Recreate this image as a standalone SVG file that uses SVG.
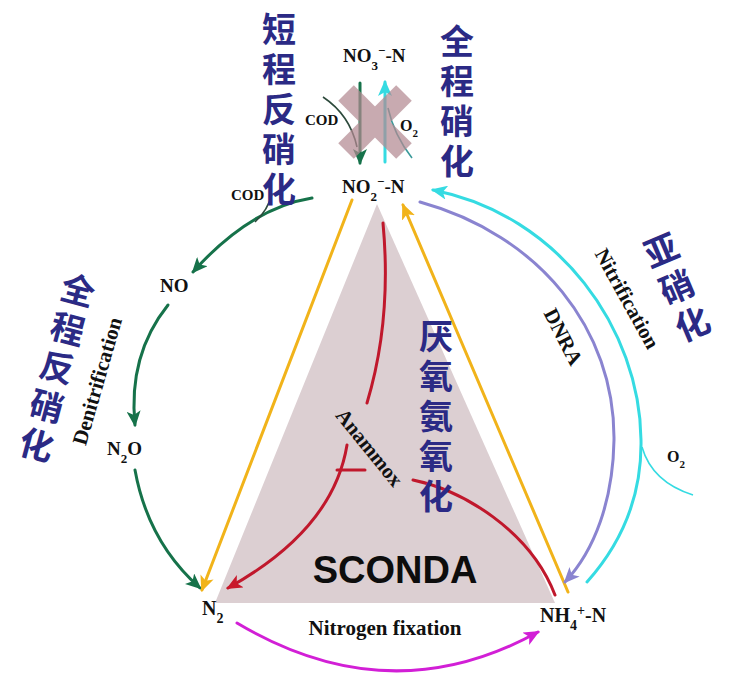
<svg xmlns="http://www.w3.org/2000/svg" width="739" height="686" viewBox="0 0 739 686">
<defs>
<style>
.chem{font-family:"Liberation Serif","Times New Roman",serif;font-weight:bold;fill:#111;}
.cn{font-family:"Noto Sans CJK SC","Noto Sans",sans-serif;font-weight:bold;fill:#2b2a85;font-size:34px;writing-mode:vertical-rl;letter-spacing:6px;}
.ln{fill:none;stroke-width:3;stroke-linecap:round;}
.thin{fill:none;stroke-width:1.6;}
</style>
<marker id="aG" viewBox="0 0 16 14" refX="14" refY="7" markerWidth="16" markerHeight="14" markerUnits="userSpaceOnUse" orient="auto"><path d="M0,0 L16,7 L0,14 L4,7 z" fill="#16724a"/></marker>
<marker id="aY" viewBox="0 0 16 14" refX="14" refY="7" markerWidth="16" markerHeight="14" markerUnits="userSpaceOnUse" orient="auto"><path d="M0,0 L16,7 L0,14 L4,7 z" fill="#f1b31a"/></marker>
<marker id="aR" viewBox="0 0 16 14" refX="14" refY="7" markerWidth="16" markerHeight="14" markerUnits="userSpaceOnUse" orient="auto"><path d="M0,0 L16,7 L0,14 L4,7 z" fill="#c9182b"/></marker>
<marker id="aP" viewBox="0 0 16 14" refX="14" refY="7" markerWidth="16" markerHeight="14" markerUnits="userSpaceOnUse" orient="auto"><path d="M0,0 L16,7 L0,14 L4,7 z" fill="#8a84d0"/></marker>
<marker id="aC" viewBox="0 0 16 14" refX="14" refY="7" markerWidth="16" markerHeight="14" markerUnits="userSpaceOnUse" orient="auto"><path d="M0,0 L16,7 L0,14 L4,7 z" fill="#35dbe2"/></marker>
<marker id="aM" viewBox="0 0 16 14" refX="14" refY="7" markerWidth="16" markerHeight="14" markerUnits="userSpaceOnUse" orient="auto"><path d="M0,0 L16,7 L0,14 L4,7 z" fill="#d21fd6"/></marker>
</defs>
<rect width="739" height="686" fill="#ffffff"/>
<g id="sconda-triangle">
<polygon points="377,204 215,603 555,603" fill="#dccfd2"/>
</g>
<g id="connectors">
<path class="ln" d="M312,198 Q250,208 193,272" stroke="#16724a" marker-end="url(#aG)"/>
<path class="thin" d="M272,194 Q268,210 255,222" stroke="#2d4a3c"/>
<path class="ln" d="M168,305 Q128,355 135,425" stroke="#16724a" marker-end="url(#aG)"/>
<path class="ln" d="M135,470 Q148,542 200,588" stroke="#16724a" marker-end="url(#aG)"/>
<path class="ln" d="M352,200 L202,590" stroke="#f1b31a" marker-end="url(#aY)"/>
<path class="ln" d="M568,592 L403,205" stroke="#f1b31a" marker-end="url(#aY)"/>
<path class="ln" d="M383,223 Q392,320 367,403" stroke="#c0182c"/>
<path class="ln" d="M347,445 C338,500 300,548 228,588" stroke="#c0182c" marker-end="url(#aR)"/>
<path class="ln" d="M337,470 L365,470" stroke="#c0182c"/>
<path class="ln" d="M413,480 C462,490 530,530 555,595" stroke="#c0182c"/>
<path class="ln" d="M420,202 C540,235 615,330 614,440 C613,500 595,550 565,582" stroke="#8a84d0" marker-end="url(#aP)"/>
<path class="ln" d="M587,582 C620,545 642,500 641,440 C640,330 560,215 433,190" stroke="#35dbe2" marker-end="url(#aC)"/>
<path class="thin" d="M642,447 Q652,482 693,495" stroke="#35dbe2" stroke-width="2"/>
<path class="ln" d="M237,623 Q390,714 538,632" stroke="#d21fd6" marker-end="url(#aM)"/>
<path class="ln" d="M360,83 L360,163" stroke="#16724a" marker-end="url(#aG)"/>
<path class="thin" d="M323,97 Q350,115 357,147" stroke="#2d4a3c"/>
<path class="ln" d="M385,162 L385,82" stroke="#35dbe2" marker-end="url(#aC)"/>
<path class="thin" d="M412,158 Q394,135 388,108" stroke="#3a9a9a"/>
</g>
<g id="blocked-cross" opacity="0.72">
<g transform="translate(375,122)">
<rect x="-41" y="-11" width="82" height="22" fill="#b38a92" transform="rotate(45)"/>
<rect x="-41" y="-11" width="82" height="22" fill="#b38a92" transform="rotate(-45)"/>
</g>
</g>
<g id="node-no3">
<text class="chem" x="343" y="62" font-size="19">NO<tspan font-size="13" baseline-shift="sub">3</tspan><tspan font-size="13" baseline-shift="super">−</tspan>-N</text>
</g>
<g id="node-no2">
<text class="chem" x="342" y="193" font-size="19">NO<tspan font-size="13" baseline-shift="sub">2</tspan><tspan font-size="13" baseline-shift="super">−</tspan>-N</text>
</g>
<g id="node-no">
<text class="chem" x="160" y="292" font-size="19">NO</text>
</g>
<g id="node-n2o">
<text class="chem" x="107" y="455" font-size="19">N<tspan font-size="13" baseline-shift="sub">2</tspan>O</text>
</g>
<g id="node-n2">
<text class="chem" x="202" y="615" font-size="20">N<tspan font-size="14" baseline-shift="sub">2</tspan></text>
</g>
<g id="node-nh4">
<text class="chem" x="540" y="622" font-size="20">NH<tspan font-size="14" baseline-shift="sub">4</tspan><tspan font-size="14" baseline-shift="super">+</tspan>-N</text>
</g>
<g id="labels">
<text class="chem" x="305" y="125" font-size="15">COD</text>
<text class="chem" x="400" y="131" font-size="16">O<tspan font-size="11" baseline-shift="sub">2</tspan></text>
<text class="chem" x="231" y="200" font-size="15">COD</text>
<text class="chem" x="667" y="462" font-size="16">O<tspan font-size="11" baseline-shift="sub">2</tspan></text>
<text class="chem" font-size="21" text-anchor="middle" transform="translate(104,383) rotate(-74)">Denitrification</text>
<text class="chem" font-size="21" text-anchor="middle" transform="translate(621,302) rotate(61)">Nitrification</text>
<text class="chem" font-size="21" text-anchor="middle" transform="translate(557,340) rotate(63)">DNRA</text>
<text class="chem" font-size="21" text-anchor="middle" transform="translate(364,452) rotate(51)">Anammox</text>
<text class="chem" x="385" y="635" font-size="21" text-anchor="middle">Nitrogen fixation</text>
<text x="395" y="583" font-family="Liberation Sans, Arial, sans-serif" font-weight="bold" font-size="38" text-anchor="middle" fill="#0d0d0d">SCONDA</text>
</g>
<g id="cn-labels">
<text class="cn" x="279" y="12">短程反硝化</text>
<text class="cn" x="457" y="24">全程硝化</text>
<text class="cn" x="436" y="319">厌氧氨氧化</text>
<text class="cn" x="0" y="-17" transform="translate(78,290) rotate(15)">全程反硝化</text>
<text class="cn" x="0" y="-17" letter-spacing="8" transform="translate(661,250) rotate(-23)">亚硝化</text>
</g>
</svg>
